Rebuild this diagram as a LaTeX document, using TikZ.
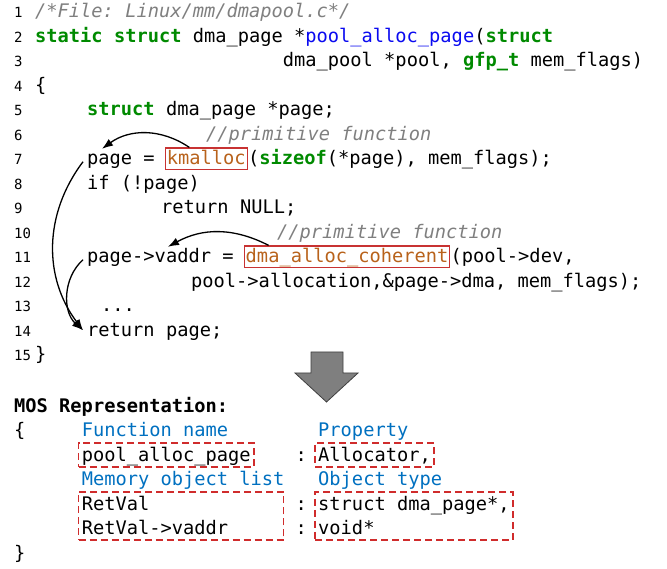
\documentclass[tikz,border=0pt]{standalone}
\usepackage{fontspec}
\setmonofont{DejaVu Sans Mono}
\usetikzlibrary{arrows.meta, fit}
\definecolor{kwgreen}{HTML}{008A00}
\definecolor{fnblue}{HTML}{0A0AF0}
\definecolor{cmtgray}{HTML}{7F7F7F}
\definecolor{primbrown}{HTML}{B8621B}
\definecolor{primred}{HTML}{C83232}
\definecolor{hdrblue}{HTML}{0070C0}
\definecolor{mosred}{HTML}{D02C2C}
\definecolor{arrowgray}{HTML}{7F7F7F}
\definecolor{arrowedge}{HTML}{3F3F3F}
\newcommand{\ckw}[1]{\textcolor{kwgreen}{\bfseries #1}}
\newcommand{\cfn}[1]{\textcolor{fnblue}{#1}}
\newcommand{\ccmt}[1]{\textcolor{cmtgray}{\itshape #1}}

\begin{document}
\begin{tikzpicture}[x=1pt, y=-1pt,
  code/.style={font=\ttfamily\fontsize{18.7}{22}\selectfont, anchor=base west,
    inner sep=0pt, text height=16pt, text depth=3.5pt},
  lineno/.style={font=\ttfamily\fontsize{14}{16}\selectfont, anchor=base west, inner sep=0pt},
  prim/.style={code, draw=primred, line width=1.2pt, text=primbrown, inner xsep=1.5pt, inner ysep=1pt},
  hdr/.style={code, text=hdrblue},
  mosbox/.style={draw=mosred, line width=1.6pt, dash pattern=on 7pt off 4pt,
    inner xsep=3pt, inner ysep=2pt},
  flow/.style={-{Latex[length=11pt, width=8pt]}, line width=1.3pt}]

\def\cw{11.26}
\def\lh{24.5}

\useasboundingbox (0,0) rectangle (667,569);

% Line numbers
\foreach \n in {1,...,15}
  \node[lineno] (ln\n) at (14,{18+(\n-1)*\lh}) {\n};

% Source listing
\node[code] (c1) at (35,18) {\ccmt{/*File: Linux/mm/dmapool.c*/}};
\node[code] (c2) at (35,42.5) {\ckw{static} \ckw{struct} dma\_page *\cfn{pool\_alloc\_page}(\ckw{struct}};
\node[code] (c3) at ({35+22*\cw},67) {dma\_pool *pool, \ckw{gfp\_t} mem\_flags)};
\node[code] (c4) at (35,91.5) {\{};
\node[code] (c5) at (87,116) {\ckw{struct} dma\_page *page;};
\node[code] (c6) at (206,140.5) {\ccmt{//primitive function}};
\node[code] (pg7) at (87,165) {page =};
\node[prim] (kmalloc) at ({87+7*\cw-1},165) {kmalloc};
\node[code] (c7) at (kmalloc.base east) {(\ckw{sizeof}(*page), mem\_flags);};
\node[code] (c8) at (87,189.5) {if (!page)};
\node[code] (c9) at (161,214) {return NULL;};
\node[code] (c10) at (277,238.5) {\ccmt{//primitive function}};
\node[code] (pg11) at (87,263) {page->vaddr =};
\node[prim] (dmaalloc) at ({87+14*\cw-1},263) {dma\_alloc\_coherent};
\node[code] (c11) at (dmaalloc.base east) {(pool->dev,};
\node[code] (c12) at (191,287.5) {pool->allocation,\&page->dma, mem\_flags);};
\node[code] (c13) at (101,312) {...};
\node[code] (ret14) at (87,336.5) {return page;};
\node[code] (c15) at (35,361) {\}};

% Data flow of the returned pointers
\draw[flow] ([xshift=-17pt]kmalloc.north) to[bend right=35] ([xshift=15pt]pg7.north west);
\draw[flow] ([xshift=25pt]dmaalloc.north west) to[bend right=28] ([xshift=81pt]pg11.north west);
\draw[flow] ([xshift=-4pt,yshift=-3pt]pg7.west) to[bend right=37] ([xshift=-4pt]ret14.west);
\draw[flow] ([xshift=-4pt,yshift=-3pt]pg11.west) to[bend right=48] ([xshift=-4pt]ret14.west);

% Block arrow
\filldraw[fill=arrowgray, draw=arrowedge, line width=0.8pt]
  (311,352) -- (343,352) -- (343,373) -- (358,373) -- (326.5,402)
  -- (295,373) -- (311,373) -- cycle;

% MOS representation
\node[code, font=\ttfamily\bfseries\fontsize{18.7}{22}\selectfont] (mos) at (14,412) {MOS Representation:};
\node[code] (ob) at (14,436.5) {\{};
\node[hdr] (fnhdr) at ({14+6*\cw},436.5) {Function name};
\node[hdr] (prophdr) at ({14+27*\cw},436.5) {Property};
\node[code] (fname) at ({14+6*\cw},461) {pool\_alloc\_page};
\node[code] (col1) at ({14+25*\cw},461) {:};
\node[code] (prop) at ({14+27*\cw},461) {Allocator,};
\node[hdr] (memhdr) at ({14+6*\cw},485.5) {Memory object list};
\node[hdr] (typehdr) at ({14+27*\cw},485.5) {Object type};
\node[code] (rv) at ({14+6*\cw},510) {RetVal};
\node[code] (col2) at ({14+25*\cw},510) {:};
\node[code] (ty1) at ({14+27*\cw},510) {struct dma\_page*,};
\node[code] (rvv) at ({14+6*\cw},534.5) {RetVal->vaddr};
\node[code] (col3) at ({14+25*\cw},534.5) {:};
\node[code] (ty2) at ({14+27*\cw},534.5) {void*};
\node[code] (cb) at (14,559) {\}};

% Dashed groups
\coordinate (rvedge) at ([xshift=-4pt]memhdr.east |- rv.base);
\node[mosbox, fit=(fname)] (fnbox) {};
\node[mosbox, fit=(prop)] (propbox) {};
\node[mosbox, fit=(rv)(rvv)(rvedge)] (objbox) {};
\node[mosbox, fit=(ty1)(ty2)] (typebox) {};

\end{tikzpicture}
\end{document}
